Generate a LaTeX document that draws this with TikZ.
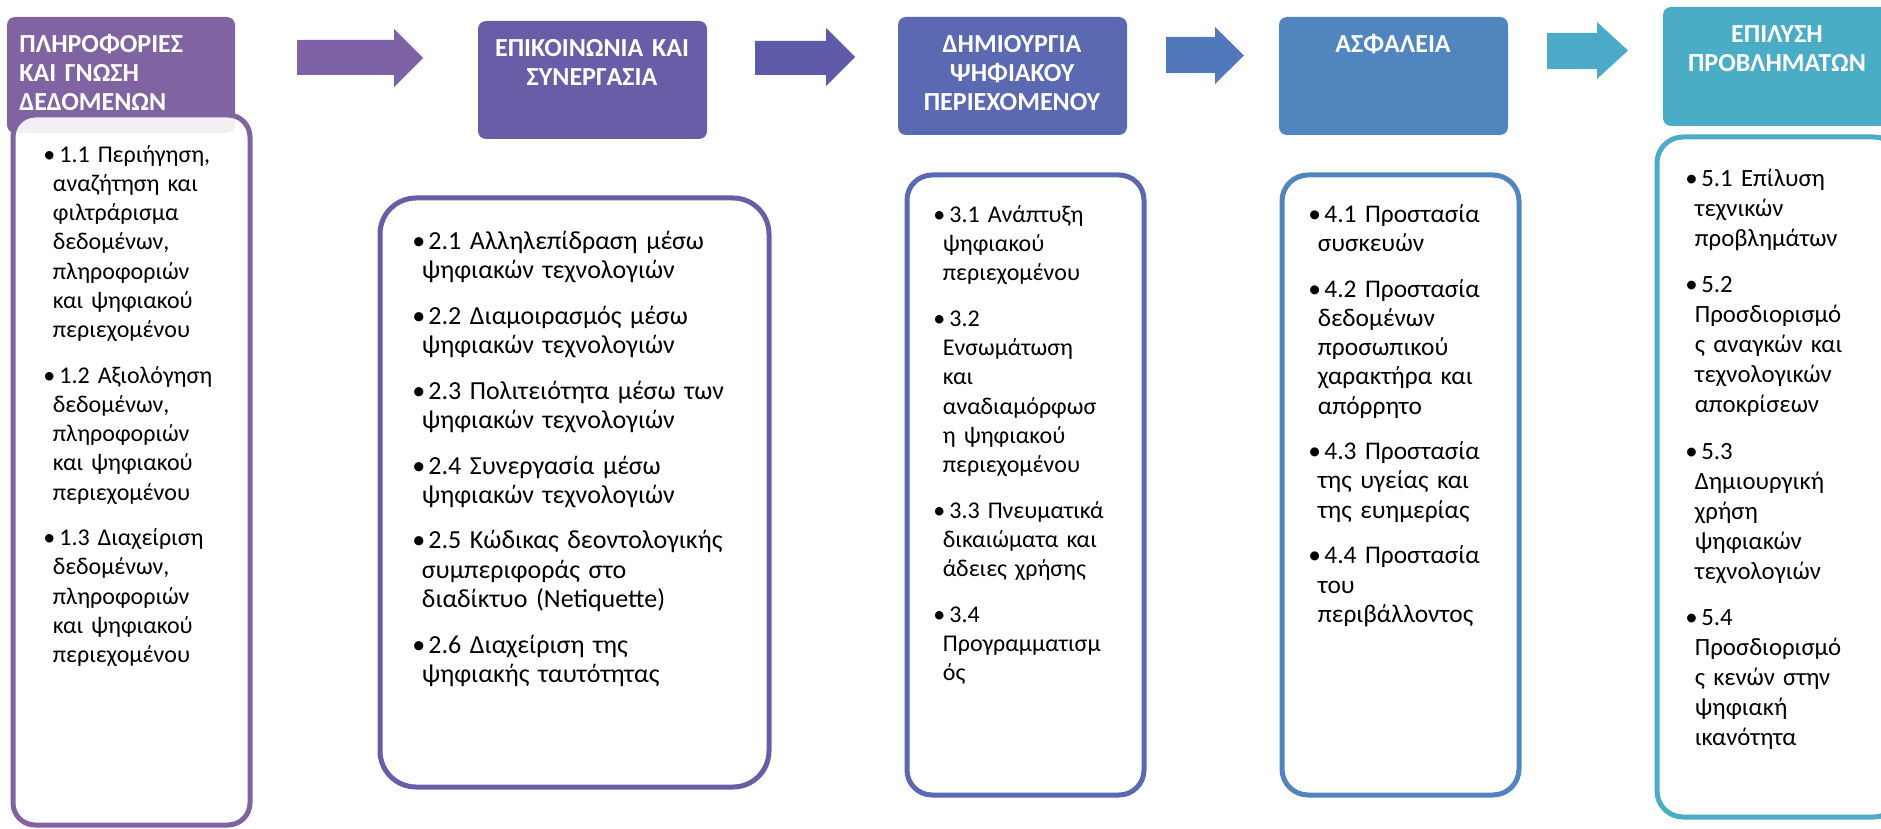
\documentclass[tikz,border=0pt]{standalone}
\usepackage{fontspec}
\setmainfont{Carlito}
\usepackage{tikz}
\usetikzlibrary{positioning}
\definecolor{purpleA}{RGB}{128,100,162}
\definecolor{purpleB}{RGB}{106,93,168}
\definecolor{indigoC}{RGB}{91,104,178}
\definecolor{blueD}{RGB}{80,133,190}
\definecolor{tealE}{RGB}{75,172,198}
\definecolor{arrowA}{RGB}{125,98,165}
\definecolor{arrowB}{RGB}{95,90,170}
\definecolor{arrowC}{RGB}{82,120,188}
\definecolor{arrowD}{RGB}{75,170,200}

\newcommand\kitem[1]{\noindent\hangindent=4.75pt\hangafter=1
  \makebox[8pt][l]{\rule{0pt}{10pt}•}#1\par}

\begin{document}
\begin{tikzpicture}[x=0.5pt,y=-0.5pt,
  headbox/.style={rounded corners=4pt},
  listbox/.style={line width=2.5pt,fill=white,fill opacity=0.9},
  headtext/.style={inner sep=0pt,text=white,text width=125pt,
    font=\fontsize{13}{14.6}\selectfont\bfseries},
  listtext/.style={inner sep=0pt,anchor=north west,text width=170pt,align=left,
    font=\fontsize{12}{14.6}\selectfont,
    execute at begin node={\setlength{\parskip}{8.25pt}}}]

\useasboundingbox (0,0) rectangle (1881,829);
\clip (0,0) rectangle (1881,829);

% headers
\fill[headbox,purpleA] (7,17)     rectangle (235,133);
\fill[headbox,purpleB] (478,21)   rectangle (707,139);
\fill[headbox,indigoC] (898,17)   rectangle (1127,135);
\fill[headbox,blueD]   (1279,17)  rectangle (1508,135);
\fill[headbox,tealE]   (1663,7)   rectangle (1891,126);

% block arrows
\fill[arrowA] (297,40) -- (394,40) -- (394,29) -- (423,58) -- (394,87) -- (394,75) -- (297,75) -- cycle;
\fill[arrowB] (755,41) -- (826,41) -- (826,28) -- (855,57) -- (826,86) -- (826,75) -- (755,75) -- cycle;
\fill[arrowC] (1166,37) -- (1215,37) -- (1215,27) -- (1244,55.5) -- (1215,84) -- (1215,73) -- (1166,73) -- cycle;
\fill[arrowD] (1547,33) -- (1597,33) -- (1597,22) -- (1628,50.5) -- (1597,79) -- (1597,69) -- (1547,69) -- cycle;

% lists
\draw[listbox,draw=purpleA,rounded corners=11pt]  (13,115)   rectangle (250,825);
\draw[listbox,draw=purpleB,rounded corners=18pt]  (380,198)  rectangle (769,787);
\draw[listbox,draw=indigoC,rounded corners=12.5pt] (907,175) rectangle (1144,795);
\draw[listbox,draw=blueD,rounded corners=13pt]    (1282,175) rectangle (1519,795);
\draw[listbox,draw=tealE,rounded corners=13pt]    (1657,137) rectangle (1900,817);

% header texts
\node[headtext,anchor=north west,align=left] (ht1) at (19,32)
  {\rule{0pt}{10pt}ΠΛΗΡΟΦΟΡΙΕΣ\\ΚΑΙ ΓΝΩΣΗ\\ΔΕΔΟΜΕΝΩΝ};
\node[headtext,anchor=north,align=center] (ht2) at (592,36)
  {\rule{0pt}{10pt}ΕΠΙΚΟΙΝΩΝΙΑ ΚΑΙ\\ΣΥΝΕΡΓΑΣΙΑ};
\node[headtext,anchor=north,align=center] (ht3) at (1012,32)
  {\rule{0pt}{10pt}ΔΗΜΙΟΥΡΓΙΑ\\ΨΗΦΙΑΚΟΥ\\ΠΕΡΙΕΧΟΜΕΝΟΥ};
\node[headtext,anchor=north,align=center] (ht4) at (1393,32)
  {\rule{0pt}{10pt}ΑΣΦΑΛΕΙΑ};
\node[headtext,anchor=north,align=center] (ht5) at (1777,22)
  {\rule{0pt}{10pt}ΕΠΙΛΥΣΗ\\ΠΡΟΒΛΗΜΑΤΩΝ};

% list texts
\node[listtext] (lt1) at (43,142) {%
  \kitem{1.1 Περιήγηση,\newline αναζήτηση και\newline φιλτράρισμα\newline δεδομένων,\newline πληροφοριών\newline και ψηφιακού\newline περιεχομένου}
  \kitem{1.2 Αξιολόγηση\newline δεδομένων,\newline πληροφοριών\newline και ψηφιακού\newline περιεχομένου}
  \kitem{1.3 Διαχείριση\newline δεδομένων,\newline πληροφοριών\newline και ψηφιακού\newline περιεχομένου}};

\node[listtext,text width=190pt,font=\fontsize{13}{14.6}\selectfont] (lt2) at (412,229) {%
  \kitem{2.1 Αλληλεπίδραση μέσω\newline ψηφιακών τεχνολογιών}
  \kitem{2.2 Διαμοιρασμός μέσω\newline ψηφιακών τεχνολογιών}
  \kitem{2.3 Πολιτειότητα μέσω των\newline ψηφιακών τεχνολογιών}
  \kitem{2.4 Συνεργασία μέσω\newline ψηφιακών τεχνολογιών}
  \kitem{2.5 Κώδικας δεοντολογικής\newline συμπεριφοράς στο\newline διαδίκτυο (Netiquette)}
  \kitem{2.6 Διαχείριση της\newline ψηφιακής ταυτότητας}};

\node[listtext] (lt3) at (933,202) {%
  \kitem{3.1 Ανάπτυξη\newline ψηφιακού\newline περιεχομένου}
  \kitem{3.2\newline Ενσωμάτωση\newline και\newline αναδιαμόρφωσ\newline η ψηφιακού\newline περιεχομένου}
  \kitem{3.3 Πνευματικά\newline δικαιώματα και\newline άδειες χρήσης}
  \kitem{3.4\newline Προγραμματισμ\newline ός}};

\node[listtext,font=\fontsize{12.7}{14.6}\selectfont] (lt4) at (1308,202) {%
  \kitem{4.1 Προστασία\newline συσκευών}
  \kitem{4.2 Προστασία\newline δεδομένων\newline προσωπικού\newline χαρακτήρα και\newline απόρρητο}
  \kitem{4.3 Προστασία\newline της υγείας και\newline της ευημερίας}
  \kitem{4.4 Προστασία\newline του\newline περιβάλλοντος}};

\node[listtext,font=\fontsize{12.4}{15}\selectfont] (lt5) at (1685,166) {%
  \kitem{5.1 Επίλυση\newline τεχνικών\newline προβλημάτων}
  \kitem{5.2\newline Προσδιορισμό\newline ς αναγκών και\newline τεχνολογικών\newline αποκρίσεων}
  \kitem{5.3\newline Δημιουργική\newline χρήση\newline ψηφιακών\newline τεχνολογιών}
  \kitem{5.4\newline Προσδιορισμό\newline ς κενών στην\newline ψηφιακή\newline ικανότητα}};
\end{tikzpicture}
\end{document}
